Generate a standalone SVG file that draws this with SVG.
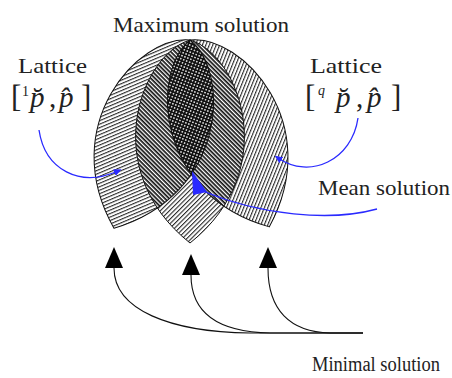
<svg xmlns="http://www.w3.org/2000/svg" xmlns:xlink="http://www.w3.org/1999/xlink" width="452" height="378" viewBox="0 0 452 378">
<style>
text{font-family:"Liberation Serif","Times New Roman",serif;fill:#222}
.lbl{font-size:21px}
.m{font-size:29px}
.it{font-style:italic}
.sup{font-size:14px}
.br{font-size:31px}
.outline{fill:none;stroke:#111;stroke-width:1}
.blue{fill:none;stroke:#2a2aff;stroke-width:1.3}
.blk{fill:none;stroke:#111;stroke-width:1.1}
</style>
<defs>
<path id="lens" d="M0,0 C-50,15 -92,130 0,203 C92,130 50,15 0,0 Z"/>
<pattern id="h1" width="3.2" height="3.2" patternUnits="userSpaceOnUse" patternTransform="rotate(-45)">
<rect width="3.2" height="3.2" fill="#fff"/><rect width="3.2" height="1.1" fill="#2a2a2a"/>
</pattern>
<pattern id="h2" width="3" height="3" patternUnits="userSpaceOnUse" patternTransform="rotate(45)">
<rect width="3" height="3" fill="#fff"/><rect width="3" height="1.7" fill="#111"/>
</pattern>
<pattern id="dots" width="3.2" height="3.2" patternUnits="userSpaceOnUse" patternTransform="rotate(45)">
<rect width="3.2" height="3.2" fill="#111"/><circle cx="1.6" cy="1.6" r="0.85" fill="#fff"/>
</pattern>
<clipPath id="cL"><use xlink:href="#lens" transform="translate(190 40) rotate(22)"/></clipPath>
<clipPath id="cR"><use xlink:href="#lens" transform="translate(190 40) rotate(-23)"/></clipPath>
<marker id="ah" viewBox="0 0 21 18" refX="0" refY="9" markerWidth="21" markerHeight="18" markerUnits="userSpaceOnUse" orient="auto">
<path d="M0,0 L21,9 L0,18 Z" fill="#000"/>
</marker>
<marker id="bh" viewBox="0 0 8 7" refX="4" refY="3.5" markerWidth="8" markerHeight="7" markerUnits="userSpaceOnUse" orient="auto">
<path d="M0,0 L8,3.5 L0,7 Z" fill="#2a2aff"/>
</marker>
</defs>
<rect width="452" height="378" fill="#fff"/>

<g id="lens-left"><use xlink:href="#lens" transform="translate(190 40) rotate(22)" fill="url(#h1)"/></g>
<g id="lens-right"><use xlink:href="#lens" transform="translate(190 40) rotate(-23)" fill="url(#h1)"/></g>
<g id="lens-middle"><use xlink:href="#lens" transform="translate(190 40)" fill="url(#h1)"/></g>

<g id="overlaps">
<g clip-path="url(#cL)"><use xlink:href="#lens" transform="translate(190 40)" fill="url(#h2)"/></g>
<g clip-path="url(#cR)"><use xlink:href="#lens" transform="translate(190 40)" fill="url(#h2)"/></g>
<g clip-path="url(#cL)"><use xlink:href="#lens" transform="translate(190 40) rotate(-23)" fill="url(#dots)"/></g>
</g>

<g id="outlines">
<use xlink:href="#lens" transform="translate(190 40) rotate(22)" class="outline"/>
<use xlink:href="#lens" transform="translate(190 40) rotate(-23)" class="outline"/>
<use xlink:href="#lens" transform="translate(190 40)" class="outline"/>
</g>

<g id="connectors">
<path class="blue" d="M39,130 C45,170 80,188 118,171" marker-end="url(#bh)"/>
<path class="blue" d="M358,118 C352,160 310,180 278,158" marker-end="url(#bh)"/>
<path class="blue" d="M377,209 C330,222 260,215 203,191"/>
<polygon points="192,171 193,195 207,192" fill="#2a2aff"/>
<path class="blk" d="M363,333 L250,333 C170,332 114,310 114,268" marker-end="url(#ah)"/>
<path class="blk" d="M363,333 L270,333 C220,332 191,315 191,275" marker-end="url(#ah)"/>
<path class="blk" d="M363,333 L330,333 C290,332 268,310 268,268" marker-end="url(#ah)"/>
</g>

<g id="label-max"><text class="lbl" x="113" y="32" textLength="176" lengthAdjust="spacingAndGlyphs">Maximum solution</text></g>

<g id="label-lattice-left">
<text class="lbl" x="18" y="73" textLength="69" lengthAdjust="spacingAndGlyphs">Lattice</text>
<text class="m" y="107"><tspan class="br" x="11">[</tspan><tspan class="sup" x="22" y="96">1</tspan><tspan class="it" x="30" y="107">p̆</tspan><tspan x="49">,</tspan><tspan class="it" x="59">p̂</tspan><tspan class="br" x="81">]</tspan></text>
</g>

<g id="label-lattice-right">
<text class="lbl" x="310" y="73" textLength="72" lengthAdjust="spacingAndGlyphs">Lattice</text>
<text class="m" y="107"><tspan class="br" x="305">[</tspan><tspan class="sup it" x="318" y="95">q</tspan><tspan class="it" x="336" y="107">p̆</tspan><tspan x="356">,</tspan><tspan class="it" x="367">p̂</tspan><tspan class="br" x="391">]</tspan></text>
</g>

<g id="label-mean"><text class="lbl" x="318" y="195" textLength="132" lengthAdjust="spacingAndGlyphs">Mean solution</text></g>
<g id="label-min"><text x="312" y="371" font-size="20" textLength="128" lengthAdjust="spacingAndGlyphs">Minimal solution</text></g>
</svg>
